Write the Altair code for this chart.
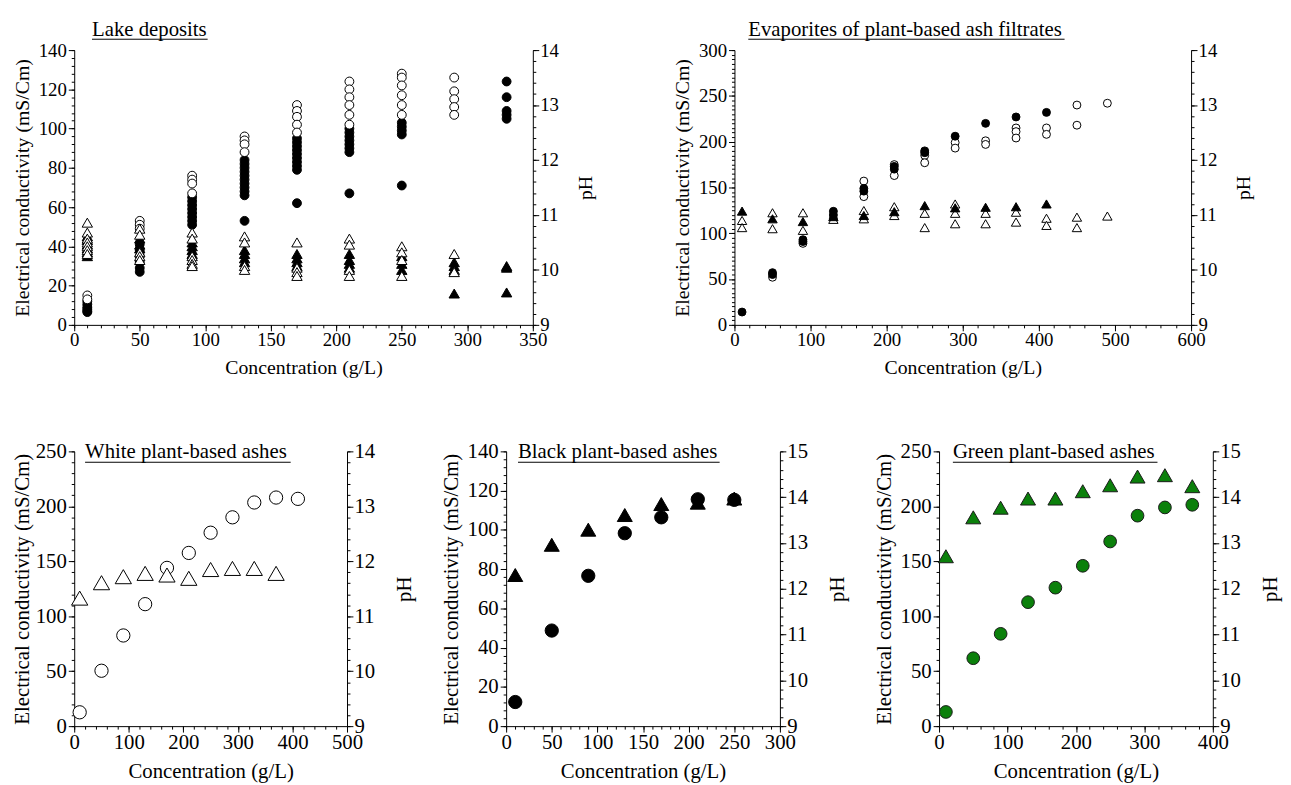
import altair as alt
import pandas as pd

FONT = "Liberation Serif"

# ---------------- data ----------------
# Lake deposits
lake_conc = [10, 50, 90, 130, 170, 210, 250, 290, 330]
lake_ec_open = [[15, 13], [53, 51, 49], [76, 74, 72, 67], [96, 94, 92, 88],
                [112, 109, 106, 102, 98], [124, 120, 116, 112, 107, 102],
                [128, 126, 122, 117, 112, 107], [126, 119, 115, 111, 107], []]
lake_ec_filled = [[12, 10.5, 9, 8, 7, 6.5], [41, 38, 35, 32, 29, 27],
                  [65, 63, 61, 59, 57, 55, 53, 51],
                  [84, 82, 80, 78, 76, 74, 72, 70, 68, 66, 53],
                  [95, 93, 91, 89, 87, 85, 83, 81, 79, 62],
                  [100, 98, 96, 94, 92, 90, 88, 67], [103, 101, 99, 97, 71], [],
                  [124, 116, 109, 107, 105]]
lake_ph_open = [[10.86, 10.68, 10.57, 10.5, 10.43, 10.36, 10.29],
                [10.75, 10.64, 10.32, 10.25, 10.18],
                [10.68, 10.57, 10.25, 10.18, 10.11, 10.07],
                [10.61, 10.5, 10.07, 10.0], [10.5, 10.04, 9.96, 9.89],
                [10.57, 10.46, 10.0, 9.89], [10.43, 10.32, 10.18, 9.89],
                [10.29, 9.96], []]
lake_ph_filled = [[10.61, 10.54, 10.46, 10.39, 10.32, 10.25],
                  [10.57, 10.46, 10.39], [10.5, 10.43, 10.36, 10.29],
                  [10.36, 10.29, 10.21, 10.14], [10.29, 10.21, 10.14, 10.07],
                  [10.29, 10.18, 10.11, 10.04], [10.25, 10.11, 10.0],
                  [10.14, 10.07, 10.0, 9.57], [10.07, 10.04, 9.59]]

# Evaporites of plant-based ash filtrates
evap_conc = [10, 50, 90, 130, 170, 210, 250, 290, 330, 370, 410, 450, 490]
evap_ec_filled = [[14], [57, 55], [93, 91], [124, 120, 116], [149, 146], [173, 170],
                  [190, 188], [206], [220], [227], [232], [], []]
evap_ec_open = [[], [52], [89], [], [157, 140], [175, 163], [185, 177], [199, 193],
                [201, 197], [215, 211, 204], [215, 208], [240, 218], [242]]
evap_ph_filled = [[11.07], [10.93], [10.88], [10.97], [10.99], [11.06], [11.17],
                  [11.13], [11.14], [11.15], [11.2], [], []]
evap_ph_open = [[10.9, 10.77], [11.04, 10.75], [11.04, 10.72], [10.92],
                [11.08, 10.93], [11.15, 10.99], [11.03, 10.77], [11.2, 11.03, 10.84],
                [11.03, 10.84], [11.05, 10.87], [10.94, 10.81], [10.96, 10.77], [10.98]]

# White plant-based ashes
white_ec_conc = [10, 50, 90, 130, 170, 210, 250, 290, 330, 370, 410]
white_ec = [12.6, 50.4, 82.5, 111, 144, 157.6, 176, 190, 203.5, 208, 206.8]
white_ph_conc = [10, 50, 90, 130, 170, 210, 250, 290, 330, 370]
white_ph = [11.33, 11.61, 11.72, 11.78, 11.75, 11.69, 11.85, 11.87, 11.87, 11.78]

# Black plant-based ashes
black_conc = [10, 50, 90, 130, 170, 210, 250]
black_ec = [12.3, 48.7, 76.6, 98.3, 106.4, 115.6, 115.3]
black_ph = [12.3, 12.96, 13.29, 13.61, 13.85, 13.88, 13.97]

# Green plant-based ashes
green_conc = [10, 50, 90, 130, 170, 210, 250, 290, 330, 370]
green_ec = [12.9, 61.8, 84, 112.8, 126, 145.9, 168, 191.5, 199, 201.4]
green_ph = [12.71, 13.56, 13.77, 13.97, 13.97, 14.13, 14.26, 14.45, 14.48, 14.24]

GREEN = "#0b800b"


def groups_df(conc, groups):
    xs, ys = [], []
    for c, g in zip(conc, groups):
        for v in g:
            xs.append(c)
            ys.append(v)
    return pd.DataFrame({"x": xs, "v": ys})


def flat_df(conc, vals):
    return pd.DataFrame({"x": conc, "v": vals})


def ticks(a, b, step):
    out, k = [], 0
    while a + k * step <= b + 1e-9:
        out.append(round(a + k * step, 6))
        k += 1
    return out


def panel(spec):
    w, h = spec["w"], spec["h"]
    fs, tfs = spec["fs"], spec["tfs"]
    xdom, ecdom, phdom = spec["xdom"], spec["ecdom"], spec["phdom"]
    common = dict(labelFont=FONT, titleFont=FONT, labelFontSize=fs, titleFontSize=tfs,
                  labelColor="black", titleColor="black", domainColor="black",
                  tickColor="black", titleFontWeight="normal", grid=False)
    x_major = alt.Axis(orient="bottom", values=ticks(xdom[0], xdom[1], spec["xstep"]),
                       tickSize=6, labelPadding=0, labelFlush=False, labelOverlap=False,
                       title="Concentration (g/L)", titlePadding=8, **common)
    x_minor = alt.Axis(orient="bottom", values=ticks(xdom[0], xdom[1], spec["xminor"]),
                       tickSize=3, labels=False, domain=False, title="", **common)
    ec_major = alt.Axis(orient="left", values=ticks(ecdom[0], ecdom[1], spec["ecstep"]),
                        tickSize=6, labelPadding=2, labelOverlap=False,
                        title="Electrical conductivity (mS/Cm)",
                        titlePadding=spec["ecpad"], **common)
    ec_minor = alt.Axis(orient="left", values=ticks(ecdom[0], ecdom[1], spec["ecminor"]),
                        tickSize=3, labels=False, domain=False, title="", **common)
    ph_major = alt.Axis(orient="right", values=ticks(phdom[0], phdom[1], 1),
                        tickSize=6, labelPadding=1, labelOverlap=False,
                        title="pH", titlePadding=spec["phpad"], titleAngle=-90,
                        titleBaseline="top", **common)
    ph_minor = alt.Axis(orient="right", values=ticks(phdom[0], phdom[1], 0.2),
                        tickSize=3, labels=False, domain=False, title="", **common)

    xs = alt.Scale(domain=xdom, nice=False, zero=False)
    ecs = alt.Scale(domain=ecdom, nice=False, zero=False)
    phs = alt.Scale(domain=phdom, nice=False, zero=False)

    layers = []
    first_ec = True
    for s in spec["ec_series"]:
        m = alt.Chart(s["df"]).mark_point(shape="circle", filled=True, fill=s["fill"],
                                          stroke=s["stroke"], strokeWidth=1,
                                          size=s["size"], opacity=1)
        layers.append(m.encode(
            x=alt.X("x:Q", scale=xs, axis=x_major if first_ec else None),
            y=alt.Y("v:Q", scale=ecs, axis=ec_major if first_ec else None)))
        first_ec = False
    base_df = spec["ec_series"][0]["df"]
    layers.append(alt.Chart(base_df).mark_point(opacity=0).encode(
        x=alt.X("x:Q", scale=xs, axis=x_minor),
        y=alt.Y("v:Q", scale=ecs, axis=ec_minor)))
    first_ph = True
    for s in spec["ph_series"]:
        m = alt.Chart(s["df"]).mark_point(shape="triangle-up", filled=True, fill=s["fill"],
                                          stroke=s["stroke"], strokeWidth=1,
                                          size=s["size"], opacity=1)
        layers.append(m.encode(
            x=alt.X("x:Q", scale=xs, axis=None),
            y=alt.Y("v:Q", scale=phs, axis=ph_major if first_ph else None)))
        first_ph = False
    layers.append(alt.Chart(spec["ph_series"][0]["df"]).mark_point(opacity=0).encode(
        x=alt.X("x:Q", scale=xs, axis=None),
        y=alt.Y("v:Q", scale=phs, axis=ph_minor)))

    one = pd.DataFrame({"a": [0]})
    tx, ty, uw, uy = spec["tx"], spec["ty"], spec["uw"], spec["uy"]
    layers.append(alt.Chart(one).mark_text(
        text=spec["title"], font=FONT, fontSize=spec["ttfs"], color="black",
        align="left", baseline="alphabetic").encode(x=alt.value(tx), y=alt.value(ty)))
    layers.append(alt.Chart(one).mark_rule(color="black", strokeWidth=1).encode(
        x=alt.value(tx), x2=alt.value(tx + uw), y=alt.value(uy)))

    return alt.layer(*layers).resolve_scale(y="independent").resolve_axis(
        x="independent", y="independent").properties(width=w, height=h)


open_c = dict(fill="white", stroke="black")
fill_c = dict(fill="black", stroke="black")

lake = panel(dict(
    w=464, h=278, fs=19, tfs=20, ttfs=21, ecpad=6,
    xdom=[0, 350], xstep=50, xminor=10, ecdom=[0, 140], ecstep=20, ecminor=4,
    phdom=[9, 14], phpad=17,
    ec_series=[dict(df=groups_df(lake_conc, lake_ec_filled), size=80, **fill_c),
               dict(df=groups_df(lake_conc, lake_ec_open), size=80, **open_c)],
    ph_series=[dict(df=groups_df(lake_conc, lake_ph_filled), size=110, **fill_c),
               dict(df=groups_df(lake_conc, lake_ph_open), size=110, **open_c)],
    title="Lake deposits", tx=18, ty=-14, uw=117, uy=-11))

evap = panel(dict(
    w=462, h=278, fs=19, tfs=20, ttfs=21, ecpad=6,
    xdom=[0, 600], xstep=100, xminor=20, ecdom=[0, 300], ecstep=50, ecminor=5,
    phdom=[9, 14], phpad=17,
    ec_series=[dict(df=groups_df(evap_conc, evap_ec_open), size=64, **open_c),
               dict(df=groups_df(evap_conc, evap_ec_filled), size=64, **fill_c)],
    ph_series=[dict(df=groups_df(evap_conc, evap_ph_open), size=90, **open_c),
               dict(df=groups_df(evap_conc, evap_ph_filled), size=90, **fill_c)],
    title="Evaporites of plant-based ash filtrates", tx=14, ty=-14, uw=320, uy=-11))

white = panel(dict(
    w=276, h=278, fs=21, tfs=21, ttfs=21, ecpad=3,
    xdom=[0, 500], xstep=100, xminor=20, ecdom=[0, 250], ecstep=50, ecminor=10,
    phdom=[9, 14], phpad=19,
    ec_series=[dict(df=flat_df(white_ec_conc, white_ec), size=180, **open_c)],
    ph_series=[dict(df=flat_df(white_ph_conc, white_ph), size=270, **open_c)],
    title="White plant-based ashes", tx=11, ty=7, uw=208, uy=11))

black = panel(dict(
    w=277, h=278, fs=21, tfs=21, ttfs=21, ecpad=6,
    xdom=[0, 300], xstep=50, xminor=10, ecdom=[0, 140], ecstep=20, ecminor=4,
    phdom=[9, 15], phpad=19,
    ec_series=[dict(df=flat_df(black_conc, black_ec), size=180, **fill_c)],
    ph_series=[dict(df=flat_df(black_conc, black_ph), size=230, **fill_c)],
    title="Black plant-based ashes", tx=12, ty=7, uw=204, uy=11))

green = panel(dict(
    w=277, h=278, fs=21, tfs=21, ttfs=21, ecpad=6,
    xdom=[0, 400], xstep=100, xminor=20, ecdom=[0, 250], ecstep=50, ecminor=10,
    phdom=[9, 15], phpad=19,
    ec_series=[dict(df=flat_df(green_conc, green_ec), size=165, fill=GREEN, stroke="#1a1a1a")],
    ph_series=[dict(df=flat_df(green_conc, green_ph), size=230, fill=GREEN, stroke="#1a1a1a")],
    title="Green plant-based ashes", tx=14, ty=7, uw=207, uy=11))

top = alt.hconcat(lake, evap, spacing=204, bounds="flush")
bottom = alt.hconcat(white, black, green, spacing=161, bounds="flush")
chart = alt.vconcat(top, bottom, spacing=62).configure_view(
    stroke="transparent").properties(padding={"left": 2, "top": 6, "right": 2, "bottom": 2},
                                     background="white")

chart.save("out.html", embed_options={"renderer": "svg", "actions": False})
